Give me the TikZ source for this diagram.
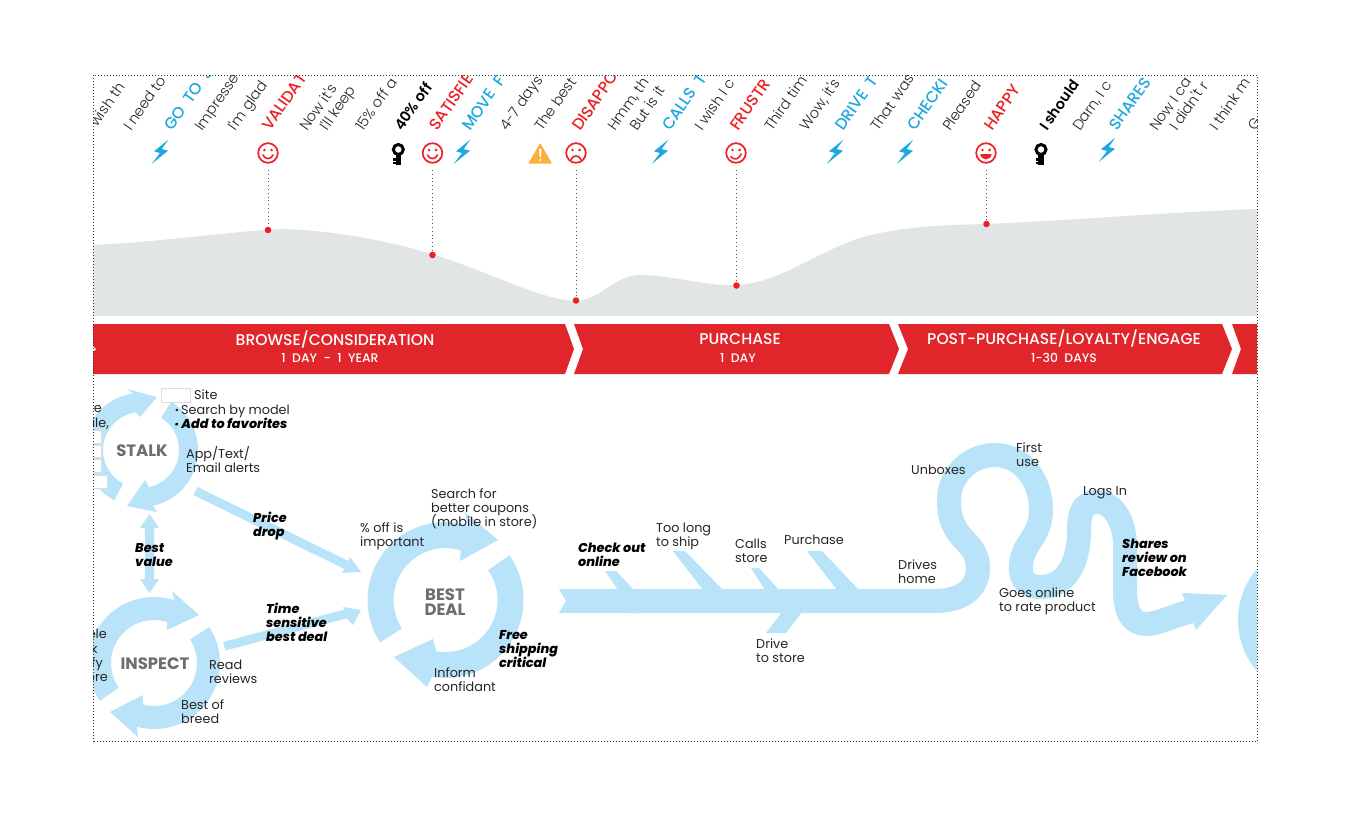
\documentclass[tikz,border=0pt]{standalone}
\usepackage{fontspec}
\setmainfont{Poppins}
\newfontfamily\lightf{Poppins Light}
\newfontfamily\medf{Poppins Medium}
\newfontfamily\semif{Poppins SemiBold}
\newfontfamily\heavyf{Poppins ExtraBold Italic}
\newfontfamily\capsf[WordSpace=2]{Poppins Medium}
\definecolor{sky}{HTML}{B9E3F9}
\definecolor{areag}{HTML}{E1E5E6}
\definecolor{redb}{HTML}{E0262A}
\definecolor{redt}{HTML}{EE2027}
\definecolor{bluet}{HTML}{1FA9E1}
\definecolor{inkt}{HTML}{262626}
\definecolor{greyt}{HTML}{6D6E71}
\definecolor{amber}{HTML}{FBB03B}
\tikzset{
  rot/.style={anchor=base west,rotate=55,inner sep=0pt,font=\lightf\fontsize{14.5}{16}\selectfont,text=inkt},
  rotb/.style={anchor=base west,rotate=55,inner sep=0pt,font=\capsf\fontsize{16}{18}\selectfont},
  rotk/.style={anchor=base west,rotate=55,inner sep=0pt,font=\semif\fontsize{14.5}{16}\selectfont,text=black},
  lab/.style={anchor=base west,inner sep=0pt,font=\fontsize{12.8}{14.4}\selectfont,text=inkt},
  labr/.style={anchor=base east,inner sep=0pt,font=\fontsize{12.8}{14.4}\selectfont,text=inkt},
  bld/.style={anchor=base west,inner sep=0pt,font=\heavyf\fontsize{12.8}{14.4}\selectfont,text=black},
  ring/.style={anchor=base,inner sep=0pt,font=\bfseries\fontsize{16.5}{14.4}\selectfont,text=greyt},
  bandt/.style={anchor=base,inner sep=0pt,font=\medf\fontsize{15.6}{17}\selectfont,text=white},
  bands/.style={anchor=base,inner sep=0pt,font=\medf\fontsize{12.4}{14}\selectfont,text=white},
  whbox/.style={draw=black!13,line width=0.9pt,fill=white},
  drop/.style={draw=black!65,line width=1pt,dash pattern=on 1pt off 2.8pt},
}
\newcommand{\ls}[1]{\vtop{\baselineskip=14.4pt\lineskiplimit=-20pt\halign{##\hfil\cr #1\crcr}}}
\newcommand{\ringarrow}[9]{\fill[sky] plot[domain=#5:#6,samples=40] ({#1+#4*cos(\x)},{#2-#4*sin(\x)}) -- #7 -- #8 -- #9 -- plot[domain=#6:#5,samples=40] ({#1+#3*cos(\x)},{#2-#3*sin(\x)}) -- cycle;}
\newcommand{\bolt}[2]{\fill[bluet,shift={(#1,#2)}] (8.3,-12.3) -- (-6,-0.7) -- (0,1) -- (-8.3,12) -- (8,-1.3) -- (1.7,-3) -- cycle;}
\newcommand{\keyicon}[2]{\begin{scope}[shift={(#1,#2)}]
  \draw[black,line width=3pt] (0,-3.5) circle (5);
  \fill[black] (-2.7,0) rectangle (2.7,12);
  \fill[black] (-5.2,5.2) rectangle (0,7.6);
  \fill[black] (-5.2,9) rectangle (0,11.4);
\end{scope}}
\newcommand{\faceicon}[3]{\begin{scope}[shift={(#1,#2)}]
  \draw[redt,line width=1.7pt] (0,0) circle (9.8);
  \fill[redt] (-3.6,-3) circle (1.4) (3.6,-3) circle (1.4);
  #3
\end{scope}}
\begin{document}
\begin{tikzpicture}[x=1pt,y=-1pt]
\useasboundingbox (0,0) rectangle (1350,825);
\fill[white] (0,0) rectangle (1350,825);
\begin{scope}
\clip (93,75) rectangle (1257,741);
\fill[areag] (93,245) .. controls (160,242) and (225,232) .. (280,229)
  .. controls (330,230) and (385,240) .. (432,254)
  .. controls (490,272) and (540,300) .. (576,301)
  .. controls (600,300) and (615,275) .. (640,275)
  .. controls (670,275) and (710,287) .. (736,285)
  .. controls (780,283) and (810,255) .. (860,238)
  .. controls (900,226) and (950,225) .. (986,224)
  .. controls (1080,220) and (1170,212) .. (1257,209)
  -- (1257,316) -- (93,316) -- cycle;
\fill[redb] (93,324) -- (565,324) -- (574,349) -- (565,374) -- (93,374) -- cycle;
\fill[white] (92,345) -- (96,349) -- (92,353) -- cycle;
\fill[redb] (574,324) -- (889,324) -- (899,349) -- (889,374) -- (574,374) -- (583,349) -- cycle;
\fill[redb] (898,324) -- (1222,324) -- (1232,349) -- (1222,374) -- (898,374) -- (908,349) -- cycle;
\fill[redb] (1232,324) -- (1258,324) -- (1258,374) -- (1232,374) -- (1241,349) -- cycle;
\node[bandt] (s1) at (335,345) {BROWSE/CONSIDERATION};
\node[bands] (s1b) at (330,362) {1 DAY - 1 YEAR};
\node[bandt] (s2) at (740,344) {PURCHASE};
\node[bands] (s2b) at (738,362) {1 DAY};
\node[bandt] (s3) at (1064,344) {POST-PURCHASE/LOYALTY/ENGAGE};
\node[bands] (s3b) at (1064,362) {1-30 DAYS};
\node[rot] (q1) at (97,128) {wish th};
\node[rot] (q2) at (131,132) {I need to};
\node[rotb,text=bluet] (q3) at (172,132) {GO TO S};
\node[rot] (q4) at (202,132) {Impresse};
\node[rot] (q5) at (235,132) {I'm glad};
\node[rotb,text=redt] (q6) at (270,132) {VALIDAT};
\node[rot] (q7) at (307,132) {Now it's};
\node[rot] (q8) at (327,132) {I'll keep};
\node[rot] (q9) at (363,132) {15\% off a};
\node[rotk] (q10) at (402,132) {40\% off};
\node[rotb,text=redt] (q11) at (437,132) {SATISFIE};
\node[rotb,text=bluet] (q12) at (470,132) {MOVE F};
\node[rot] (q13) at (507,132) {4-7 days};
\node[rot] (q14) at (542,132) {The best};
\node[rotb,text=redt] (q15) at (580,132) {DISAPPO};
\node[rot] (q16) at (615,132) {Hmm, th};
\node[rot] (q17) at (637,132) {But is it};
\node[rotb,text=bluet] (q18) at (670,132) {CALLS T};
\node[rot] (q19) at (702,132) {I wish I c};
\node[rotb,text=redt] (q20) at (738,132) {FRUSTR};
\node[rot] (q21) at (772,132) {Third tim};
\node[rot] (q22) at (807,132) {Wow, it's};
\node[rotb,text=bluet] (q23) at (843,132) {DRIVE T};
\node[rot] (q24) at (878,132) {That was};
\node[rotb,text=bluet] (q25) at (915,132) {CHECKI};
\node[rot] (q26) at (950,132) {Pleased};
\node[rotb,text=redt] (q27) at (992,132) {HAPPY};
\node[rotk] (q28) at (1047,132) {I should};
\node[rot] (q29) at (1080,132) {Darn, I c};
\node[rotb,text=bluet] (q30) at (1117,132) {SHARES};
\node[rot] (q31) at (1157,132) {Now I ca};
\node[rot] (q32) at (1177,132) {I didn't r};
\node[rot] (q33) at (1217,132) {I think m};
\node[rot] (q34) at (1255,132) {G};
\bolt{160}{152}\bolt{462}{152}\bolt{660}{152}\bolt{835}{152}\bolt{905}{152}\bolt{1107}{150}
\keyicon{398.3}{153}\keyicon{1041}{153}
\faceicon{268}{153}{\draw[redt,line width=1.6pt,line cap=round] (-5,2) .. controls (-3,6.8) and (3,6.8) .. (5,2);}
\faceicon{432.5}{153}{\draw[redt,line width=1.6pt,line cap=round] (-5,2) .. controls (-3,6.8) and (3,6.8) .. (5,2);}
\faceicon{576}{153}{\draw[redt,line width=1.6pt,line cap=round] (-5,6.5) .. controls (-3,1.8) and (3,1.8) .. (5,6.5);}
\faceicon{736}{153}{\draw[redt,line width=1.6pt,line cap=round] (-5.2,3.6) .. controls (-2,7.6) and (3,6.4) .. (5.2,1);}
\faceicon{986}{153}{\fill[redt] (-5.6,1.2) -- (5.6,1.2) .. controls (5,8) and (-5,8) .. (-5.6,1.2) -- cycle;}
\fill[amber,rounded corners=0.8pt] (540.2,143) -- (552,163.5) -- (528.3,163.5) -- cycle;
\fill[white] (539,149) -- (541.6,149) -- (541,157) -- (539.6,157) -- cycle;
\fill[white] (540.3,160) circle (1.3);
\draw[drop] (268,170) -- (268,230);
\draw[drop] (432.5,170) -- (432.5,255);
\draw[drop] (576,170) -- (576,300);
\draw[drop] (736.5,170) -- (736.5,285);
\draw[drop] (986.5,170) -- (986.5,224);
\fill[redt] (268,230) circle (3.3) (432.5,255) circle (3.3) (576,300.5) circle (3.3) (736.5,285.5) circle (3.3) (986.5,224) circle (3.3);
\ringarrow{141}{450}{38}{57}{58}{-78}{(157,512)}{(127,506)}{(145,480)}
\ringarrow{141}{450}{38}{57}{242}{98}{(127,389)}{(157,397)}{(140,417)}
\ringarrow{154}{663}{43}{66}{33}{-105}{(138,737)}{(110,712)}{(143,695)}
\ringarrow{154}{663}{43}{66}{215}{72}{(172,591)}{(199,615)}{(167,630)}
\ringarrow{445.5}{600}{52}{78}{213}{73}{(465,512)}{(498,540)}{(460,561)}
\ringarrow{445.5}{600}{52}{78}{35}{-100}{(427,687)}{(394,657)}{(433,639)}
\fill[sky] (1316,620) circle (78);
\fill[sky] (149.5,514) -- (159,528) -- (154.2,528) -- (154.2,579) -- (159,579) -- (149.5,593) -- (140,579) -- (144.8,579) -- (144.8,528) -- (140,528) -- cycle;
\fill[sky] (197.5,487) -- (348.4,561) -- (350,557) -- (361,572) -- (342,573) -- (344.4,569) -- (193.5,495) -- cycle;
\fill[sky] (223,642) -- (344.3,609.6) -- (343,607) -- (361,610) -- (353,625) -- (346.5,618.4) -- (225.5,650.5) -- cycle;
\fill[sky] (559,589) -- (640,589) -- (640,613) -- (559,613) -- (566,601) -- cycle;
\draw[sky,line width=24pt] (630,601) -- (935,601)
  .. controls (960,601) and (978,590) .. (978,568)
  .. controls (978,550) and (966,543) .. (960,535)
  .. controls (952,525) and (949,515) .. (949,500)
  .. controls (949,475) and (970,455) .. (995,455)
  .. controls (1022,455) and (1041,480) .. (1041,510)
  .. controls (1041,530) and (1030,540) .. (1025,550)
  .. controls (1018,565) and (1018,587) .. (1040,587)
  .. controls (1065,587) and (1079,565) .. (1079,530)
  .. controls (1079,515) and (1082,502) .. (1097,502)
  .. controls (1115,502) and (1125,525) .. (1125,545)
  -- (1125,590)
  .. controls (1125,612) and (1132,624) .. (1146,624)
  .. controls (1158,624) and (1172,616) .. (1192,611);
\fill[sky] (1182,593) -- (1227,595) -- (1196,630) -- cycle;
\fill[sky] (605,571) -- (616,571) -- (634,590) -- (618,590) -- cycle;
\fill[sky] (673,551) -- (685,551) -- (723,590) -- (703,590) -- cycle;
\fill[sky] (751,568) -- (759,568) -- (779,590) -- (765,590) -- cycle;
\fill[sky] (807,551) -- (822,551) -- (859,590) -- (837,590) -- cycle;
\fill[sky] (766,633) -- (786,633) -- (802,612) -- (782,612) -- cycle;
\draw[whbox] (161,388) rectangle (190,402);
\draw[whbox] (90,430) rectangle (101,443);
\draw[whbox] (90,445) rectangle (101,457);
\draw[whbox] (90,459) rectangle (101,472);
\draw[whbox] (90,475) rectangle (107,488);
\node[ring] (stalk) at (142,456.5) {STALK};
\node[ring] (inspect) at (155,669.5) {INSPECT};
\node[ring] (bd1) at (445,600) {BEST};
\node[ring] (bd2) at (445,615) {DEAL};
\node[lab] (l1) at (194,399) {Site};
\node[lab] (l2) at (175,414) {{\bfseries ·}\,Search by model};
\node[bld] (l3) at (175,428) {·\,Add to favorites};
\node[lab] (l4) at (186,458) {\ls{App/Text/\cr Email alerts}};
\node[labr] (l5) at (102,412) {e};
\node[labr] (l6) at (109,427) {ile,};
\node[bld] (l7) at (135,552) {\ls{Best\cr value}};
\node[bld] (l8) at (253,522) {\ls{Price\cr drop}};
\node[bld] (l9) at (266,613) {\ls{Time\cr sensitive\cr best deal}};
\node[labr] (l10) at (107,638) {ele};
\node[labr] (l11) at (98,653) {k};
\node[labr] (l12) at (103,667) {fy};
\node[labr] (l13) at (108,681) {ere};
\node[lab] (l14) at (209,669) {\ls{Read\cr reviews}};
\node[lab] (l15) at (181,709) {\ls{Best of\cr breed}};
\node[lab] (l16) at (431,498) {\ls{Search for\cr better coupons\cr (mobile in store)}};
\node[lab] (l17) at (360,532) {\ls{\% off is\cr important}};
\node[bld] (l18) at (499,639) {\ls{Free\cr shipping\cr critical}};
\node[lab] (l19) at (434,677) {\ls{Inform\cr confidant}};
\node[bld] (l20) at (578,552) {\ls{Check out\cr online}};
\node[lab] (l21) at (656,532) {\ls{Too long\cr to ship}};
\node[lab] (l22) at (735,548) {\ls{Calls\cr store}};
\node[lab] (l23) at (784,544) {Purchase};
\node[lab] (l24) at (756,648) {\ls{Drive\cr to store}};
\node[lab] (l25) at (898,569) {\ls{Drives\cr home}};
\node[lab] (l26) at (911,474) {Unboxes};
\node[lab] (l27) at (1016,452) {\ls{First\cr use}};
\node[lab] (l28) at (1083,495) {Logs In};
\node[lab] (l29) at (999,597) {\ls{Goes online\cr to rate product}};
\node[bld] (l30) at (1122,548) {\ls{Shares\cr review on\cr Facebook}};
\end{scope}
\draw[black!80,line width=1pt,dash pattern=on 1pt off 2pt] (93.5,75) rectangle (1257,741);
\end{tikzpicture}
\end{document}
